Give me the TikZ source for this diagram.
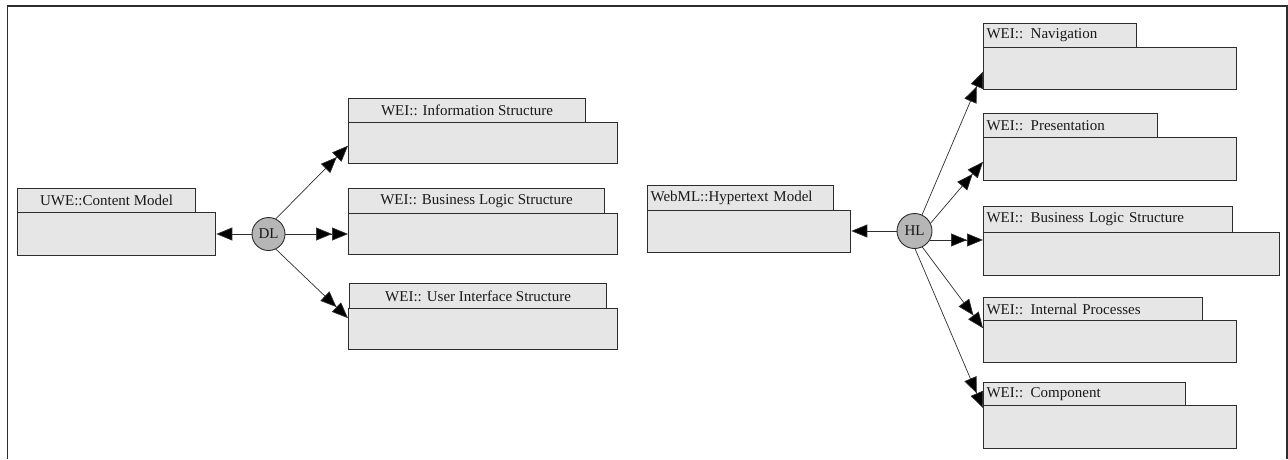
\documentclass[tikz,border=0pt]{standalone}
\usepackage{fontspec}
\setmainfont{Liberation Serif}
\usetikzlibrary{arrows.meta,calc}
\definecolor{boxfill}{RGB}{230,230,230}
\definecolor{hubfill}{RGB}{182,182,182}
\definecolor{edge}{RGB}{45,45,45}
\begin{document}
\begin{tikzpicture}[x=1pt,y=-1pt,
  every node/.style={font=\fontsize{15}{18}\selectfont, text=black!90},
  tabc/.style={draw=edge, line width=1.1pt, fill=boxfill, anchor=north west,
    inner sep=0pt, minimum height=24pt},
  tabl/.style={tabc, inner xsep=3pt, align=left},
  bodybox/.style={draw=edge, line width=1.3pt, fill=boxfill, anchor=north west,
    inner sep=0pt},
  hub/.style={circle, draw=edge, line width=0.9pt, fill=hubfill, inner sep=0pt},
  link/.style={draw=edge, line width=0.7pt},
  single/.style={link, -{Triangle[length=16pt,width=13pt,fill=black]}},
  dbl/.style={link, -{Triangle[length=16pt,width=13pt,fill=black]Triangle[length=16pt,width=13pt,fill=black]}}]
\useasboundingbox (0,0) rectangle (1288,459);

% outer frame (open at the bottom)
\draw[edge, line width=1.2pt] (7.5,459) -- (7.5,6) -- (1287,6) -- (1287,459);

% ---- left group ----
\node[tabc, minimum width=178pt] (cmt) at (17,188) {UWE::Content Model};
\node[bodybox, minimum width=198pt, minimum height=43pt] (cmb) at (17,212) {};

\node[tabc, minimum width=237pt] (ist) at (348,98) {WEI:: Information Structure};
\node[bodybox, minimum width=269pt, minimum height=41pt] (isb) at (348,122) {};

\node[tabc, minimum width=256pt, minimum height=25pt] (bst) at (348,188) {WEI:: Business Logic Structure};
\node[bodybox, minimum width=269pt, minimum height=41pt] (bsb) at (348,213) {};

\node[tabc, minimum width=257pt, minimum height=25pt] (ust) at (349,283) {WEI:: User Interface Structure};
\node[bodybox, minimum width=269pt, minimum height=41pt] (usb) at (348,308) {};

\node[hub, minimum size=33pt] (DL) at (268.5,234) {DL};

% ---- middle group ----
\node[tabl, text width=180pt, minimum height=25pt] (hmt) at (647,185) {WebML::Hypertext Model};
\node[bodybox, minimum width=203pt, minimum height=42pt] (hmb) at (647,210) {};

\node[hub, minimum size=35pt] (HL) at (914.5,231) {HL};

% ---- right group ----
\node[tabl, text width=147pt] (nvt) at (983,23) {WEI:: Navigation};
\node[bodybox, minimum width=253pt, minimum height=42pt] (nvb) at (983,47) {};

\node[tabl, text width=168pt] (prt) at (983,113) {WEI:: Presentation};
\node[bodybox, minimum width=253pt, minimum height=43pt] (prb) at (983,137) {};

\node[tabl, text width=243pt, minimum height=26pt] (rbt) at (983,206) {WEI:: Business Logic Structure};
\node[bodybox, minimum width=296pt, minimum height=43pt] (rbb) at (983,232) {};

\node[tabl, text width=213pt, minimum height=23pt] (ipt) at (983,297) {WEI:: Internal Processes};
\node[bodybox, minimum width=253pt, minimum height=42pt] (ipb) at (983,320) {};

\node[tabl, text width=196pt, minimum height=23pt] (cpt) at (983,382) {WEI:: Component};
\node[bodybox, minimum width=253pt, minimum height=43pt] (cpb) at (983,405) {};

% ---- connectors ----
\draw[single] (DL) -- (DL -| cmb.east);
\draw[dbl] (DL.64) -- ($(isb.north west)!0.56!(isb.south west)$);
\draw[dbl] (DL) -- (DL -| bsb.west);
\draw[dbl] (DL.-64) -- ($(usb.north west)!0.24!(usb.south west)$);

\draw[single] (HL) -- (HL -| hmb.east);
\draw[dbl] (HL.65) -- ($(nvb.north west)!0.57!(nvb.south west)$);
\draw[dbl] (HL.26) -- ($(prb.north west)!0.56!(prb.south west)$);
\draw[dbl] (HL.-30) -- (HL.-30 -| rbb.west);
\draw[dbl] (HL.-64) -- ($(ipb.north west)!0.19!(ipb.south west)$);
\draw[dbl] (HL.-88) -- ($(cpb.north west)!0.07!(cpb.south west)$);
\end{tikzpicture}
\end{document}
